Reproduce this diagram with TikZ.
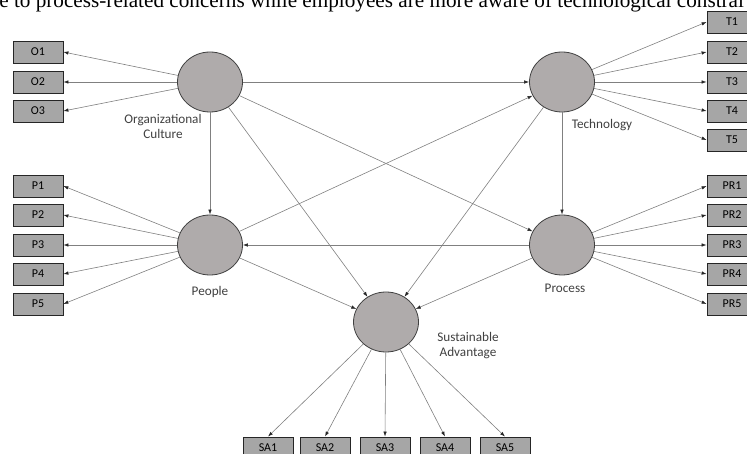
\documentclass[tikz,border=0pt]{standalone}
\usepackage{fontspec}
\setmainfont{Carlito}
\newfontfamily\paperfont{Liberation Serif}
\usetikzlibrary{arrows.meta,shapes.geometric}
\definecolor{latentgray}{RGB}{175,171,171}
\definecolor{boxgray}{RGB}{166,166,166}

\def\leftx{38}
\def\rightx{732}

\begin{document}
\begin{tikzpicture}[x=1pt,y=-1pt,->,>={Latex[length=5pt,width=3.5pt,color=black!85]},
    draw=black!50, line width=0.6pt, font=\fontsize{12}{14}\selectfont]
    \tikzstyle{latent}=[ellipse,fill=latentgray,draw=black!75,line width=0.8pt,minimum width=65pt,minimum height=60pt,inner sep=0pt]
    \tikzstyle{indicator}=[rectangle,fill=boxgray,draw=black!85,line width=0.8pt,minimum width=50pt,minimum height=22pt,inner sep=0pt]
    \tikzstyle{annot}=[align=center,text=black!75,font=\fontsize{13.2}{15}\selectfont]

    \useasboundingbox (0,0) rectangle (747,454);
    \clip (0,0) rectangle (747,454);

    % Line of the page above the figure
    \node[anchor=base west,inner sep=0pt,font=\paperfont\fontsize{21.2}{23}\selectfont] (caption) at (-1,8)
        {e to process-related concerns while employees are more aware of technological constrai};

    % Draw the latent variables
    \node[latent] (OC) at (210,82) {};
    \node[latent] (T) at (562,82) {};
    \node[latent] (P) at (210,245) {};
    \node[latent] (PR) at (562,245) {};
    \node[latent] (SA) at (386,322) {};

    % Draw the indicators
    \foreach \name / \y in {1/52,2/82,3/111}
        \node[indicator] (O-\name) at (\leftx,\y) {O\name};
    \foreach \name / \y in {1/22,2/52,3/82,4/111,5/140}
        \node[indicator] (T-\name) at (\rightx,\y) {T\name};
    \foreach \name / \y in {1/186,2/215,3/245,4/274,5/304} {
        \node[indicator] (P-\name) at (\leftx,\y) {P\name};
        \node[indicator] (PR-\name) at (\rightx,\y) {PR\name};
    }
    \foreach \name / \x in {1/268,2/325,3/385,4/445,5/505}
        \node[indicator] (SA-\name) at (\x,448) {SA\name};

    % Connect the latent variables with their indicators
    \foreach \name in {1,2,3}
        \path (OC) edge (O-\name.east);
    \foreach \name in {1,...,5} {
        \path (T) edge (T-\name.west);
        \path (P) edge (P-\name.east);
        \path (PR) edge (PR-\name.west);
        \path (SA) edge (SA-\name.north);
    }

    % Paths between the latent variables
    \foreach \source / \dest in {OC/T,OC/P,OC/PR,OC/SA,P/T,P/SA,T/PR,T/SA,PR/P,PR/SA}
        \path (\source) edge (\dest);

    % Annotate the latent variables
    \node[annot] (oc-label) at (163,126) {Organizational\\Culture};
    \node[annot] (t-label) at (602,125) {Technology};
    \node[annot] (p-label) at (210,292) {People};
    \node[annot] (pr-label) at (565,288) {Process};
    \node[annot] (sa-label) at (468,346) {Sustainable\\Advantage};
\end{tikzpicture}
\end{document}
